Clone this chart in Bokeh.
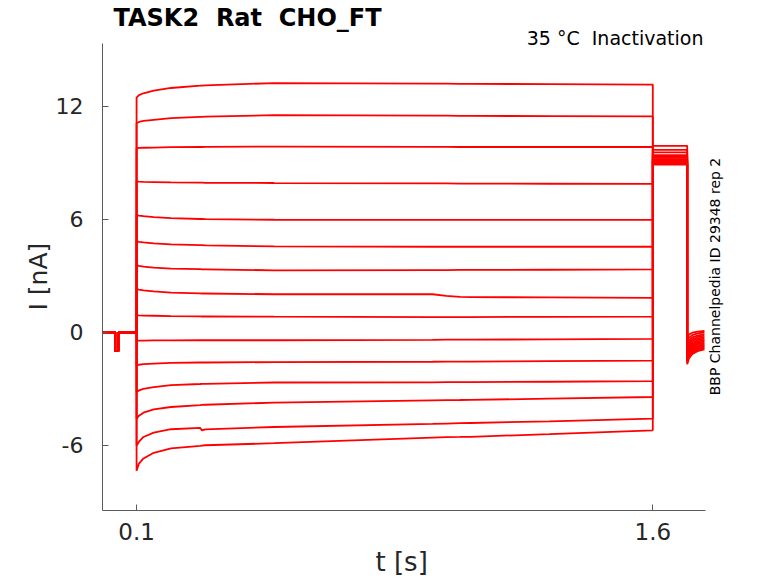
from bokeh.plotting import figure
from bokeh.models import Range1d, FixedTicker, Label, Title
from bokeh.embed import file_html
from bokeh.resources import INLINE
import math

# ---- data ----
T_PRE = [0.0, 0.038, 0.038, 0.047, 0.047, 0.1]
I_PRE = [0.0, 0.0, -1.0, -1.0, 0.0, 0.0]

T_STEP = [0.1, 0.107, 0.12, 0.15, 0.2, 0.285, 0.29, 0.3, 0.5, 0.96, 1.0, 1.04, 1.07, 1.3, 1.6]
I_STEP = [
    [12.45, 12.58, 12.68, 12.82, 12.96, 13.08, 13.09, 13.10, 13.22, 13.19, 13.19, 13.18, 13.18, 13.16, 13.14],
    [11.09, 11.16, 11.21, 11.27, 11.36, 11.43, 11.43, 11.44, 11.52, 11.49, 11.49, 11.48, 11.48, 11.47, 11.45],
    [9.75, 9.78, 9.79, 9.80, 9.82, 9.83, 9.83, 9.84, 9.85, 9.84, 9.84, 9.83, 9.83, 9.83, 9.83],
    [8.01, 7.99, 7.98, 7.97, 7.95, 7.94, 7.94, 7.93, 7.92, 7.90, 7.90, 7.89, 7.89, 7.88, 7.87],
    [6.23, 6.19, 6.16, 6.11, 6.06, 6.01, 6.01, 6.00, 5.97, 5.96, 5.96, 5.96, 5.96, 5.96, 5.96],
    [4.84, 4.80, 4.77, 4.72, 4.66, 4.62, 4.62, 4.61, 4.56, 4.54, 4.54, 4.54, 4.54, 4.54, 4.54],
    [3.57, 3.53, 3.49, 3.43, 3.38, 3.35, 3.34, 3.34, 3.29, 3.30, 3.30, 3.31, 3.31, 3.32, 3.34],
    [2.29, 2.26, 2.22, 2.17, 2.11, 2.07, 2.06, 2.06, 2.02, 2.02, 1.93, 1.88, 1.87, 1.85, 1.83],
    [0.91, 0.90, 0.89, 0.88, 0.86, 0.85, 0.84, 0.84, 0.83, 0.81, 0.81, 0.81, 0.81, 0.82, 0.83],
    [-0.44, -0.44, -0.44, -0.43, -0.43, -0.42, -0.42, -0.42, -0.42, -0.40, -0.39, -0.39, -0.39, -0.37, -0.35],
    [-1.76, -1.72, -1.69, -1.66, -1.62, -1.60, -1.60, -1.60, -1.58, -1.56, -1.55, -1.55, -1.55, -1.53, -1.50],
    [-3.17, -3.08, -3.00, -2.91, -2.80, -2.74, -2.73, -2.73, -2.66, -2.65, -2.64, -2.64, -2.64, -2.62, -2.59],
    [-4.58, -4.42, -4.26, -4.09, -3.96, -3.86, -3.85, -3.84, -3.73, -3.61, -3.60, -3.59, -3.58, -3.52, -3.43],
    [-6.02, -5.80, -5.55, -5.32, -5.14, -5.07, -5.20, -5.15, -5.02, -4.86, -4.84, -4.82, -4.81, -4.72, -4.58],
    [-7.34, -6.96, -6.69, -6.39, -6.16, -6.02, -6.01, -5.99, -5.88, -5.58, -5.56, -5.55, -5.54, -5.40, -5.20],
]

T_TEST = [1.6, 1.7]
I_TEST = [8.89, 8.92, 8.95, 8.98, 9.01, 9.05, 9.09, 9.13, 9.18, 9.25, 9.33, 9.40, 9.54, 9.68, 9.89]

T_TAIL = [1.7, 1.705, 1.715, 1.73, 1.75]
I_TAIL = [
    [-1.69, -1.38, -1.15, -1.00, -0.90],
    [-1.61, -1.30, -1.08, -0.94, -0.84],
    [-1.54, -1.23, -1.02, -0.88, -0.78],
    [-1.47, -1.16, -0.96, -0.82, -0.72],
    [-1.40, -1.09, -0.90, -0.76, -0.66],
    [-1.32, -1.02, -0.83, -0.70, -0.60],
    [-1.24, -0.95, -0.76, -0.63, -0.54],
    [-1.16, -0.88, -0.69, -0.56, -0.47],
    [-1.07, -0.80, -0.62, -0.49, -0.40],
    [-0.98, -0.72, -0.54, -0.42, -0.33],
    [-0.88, -0.63, -0.46, -0.34, -0.26],
    [-0.77, -0.53, -0.37, -0.26, -0.18],
    [-0.64, -0.42, -0.27, -0.17, -0.09],
    [-0.47, -0.28, -0.15, -0.06, 0.00],
    [-0.28, -0.12, -0.02, 0.04, 0.07],
]

X_TICKS = [0.1, 1.6]
Y_TICKS = [-6, 0, 6, 12]
X_AXIS_SPAN = (0.001, 1.753)
Y_AXIS_SPAN = (-9.45, 15.33)

TITLE = "TASK2 \u00a0Rat \u00a0CHO_FT"
SUBTITLE = "35 \u00b0C \u00a0Inactivation"
SIDE_TEXT = "BBP Channelpedia ID 29348 rep 2"
X_LABEL = "t [s]"
Y_LABEL = "I [nA]"

FONT = "DejaVu Sans"
TXT = "#262626"
AX = "#5a5a5a"

# frame extends past the drawn axes (top and right) so that the texts sit inside it
p = figure(width=778, height=583, output_backend="svg", toolbar_location=None,
           x_range=Range1d(0.001, 1.942), y_range=Range1d(-9.45, 17.60),
           min_border_left=102, min_border_right=8, min_border_top=0, min_border_bottom=71)
p.outline_line_color = None
p.xgrid.visible = False
p.ygrid.visible = False
p.background_fill_color = "white"
p.border_fill_color = "white"

for k in range(len(I_STEP)):
    xs = T_PRE + T_STEP + T_TEST + T_TAIL
    ys = I_PRE + I_STEP[k] + [I_TEST[k], I_TEST[k]] + I_TAIL[k]
    p.line(xs, ys, line_color="#ff0000", line_width=1.8)

for ax in (p.xaxis[0], p.yaxis[0]):
    ax.axis_line_color = AX
    ax.major_tick_line_color = AX
    ax.major_tick_in = 6
    ax.major_tick_out = 0
    ax.minor_tick_line_color = None
    ax.major_label_text_font = FONT
    ax.major_label_text_color = TXT

p.xaxis.major_label_text_font_size = "23px"
p.yaxis.major_label_text_font_size = "22px"
p.xaxis.bounds = X_AXIS_SPAN
p.yaxis.bounds = Y_AXIS_SPAN
p.xaxis.ticker = FixedTicker(ticks=X_TICKS)
p.yaxis.ticker = FixedTicker(ticks=Y_TICKS)
p.xaxis.major_label_overrides = {t: str(t) for t in X_TICKS}
p.yaxis.major_label_overrides = {t: str(t) for t in Y_TICKS}
p.xaxis.major_label_standoff = 12
p.yaxis.major_label_standoff = 19

# axis labels, placed as side titles so they centre on the drawn axes
p.add_layout(Title(text=X_LABEL, align="left", offset=273, vertical_align="top", standoff=9,
                   text_font=FONT, text_font_size="26px", text_font_style="normal",
                   text_color=TXT), "below")
p.add_layout(Title(text=Y_LABEL, align="left", offset=200, vertical_align="bottom", standoff=0,
                   text_font=FONT, text_font_size="25px", text_font_style="normal",
                   text_color=TXT), "left")

p.add_layout(Label(x=11, y=493, x_units="screen", y_units="screen", text=TITLE,
                   text_font=FONT, text_font_size="24px", text_font_style="bold",
                   text_color="black", text_baseline="alphabetic", text_align="left"))
p.add_layout(Label(x=601, y=473, x_units="screen", y_units="screen", text=SUBTITLE,
                   text_font=FONT, text_font_size="19px", text_color="black",
                   text_baseline="alphabetic", text_align="right"))
p.add_layout(Label(x=612, y=234, x_units="screen", y_units="screen", text=SIDE_TEXT,
                   text_font=FONT, text_font_size="14px", text_color="black",
                   angle=math.pi / 2, text_baseline="alphabetic", text_align="center"))

open("out.html", "w").write(file_html(p, INLINE))
